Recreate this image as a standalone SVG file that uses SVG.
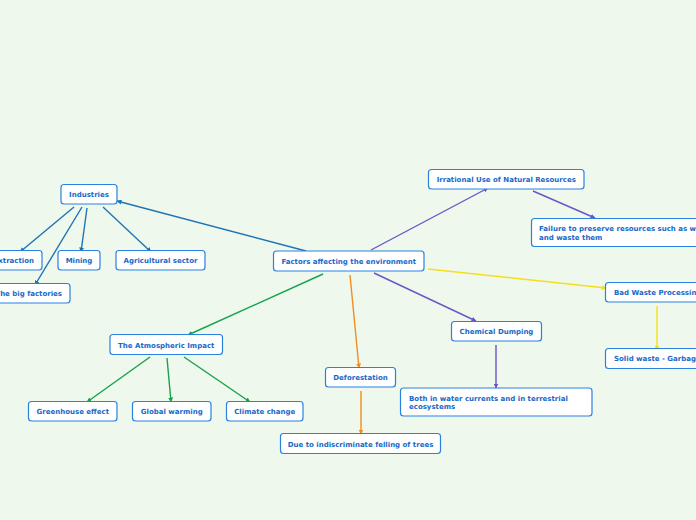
<svg xmlns="http://www.w3.org/2000/svg" width="696" height="520" viewBox="0 0 696 520">
<style>
.n rect{fill:#ffffff;stroke:#2a82e0;stroke-width:1.2}
.n text{font-family:"DejaVu Sans",Verdana,sans-serif;font-weight:bold;font-size:7px;fill:#1768c8}
.c line{stroke-width:1.4;fill:none}
.b{stroke:#1f74b6}
.p{stroke:#6a55c8}
.y{stroke:#f5df1c}
.o{stroke:#f28c22}
.g{stroke:#15a24f}
</style>
<defs>
<marker id="mb" viewBox="0 0 10 10" refX="9" refY="5" markerWidth="5" markerHeight="5" orient="auto" markerUnits="userSpaceOnUse"><path d="M0,0L10,5L0,10z" fill="#1f74b6"/></marker>
<marker id="mp" viewBox="0 0 10 10" refX="9" refY="5" markerWidth="5" markerHeight="5" orient="auto" markerUnits="userSpaceOnUse"><path d="M0,0L10,5L0,10z" fill="#6a55c8"/></marker>
<marker id="my" viewBox="0 0 10 10" refX="9" refY="5" markerWidth="5" markerHeight="5" orient="auto" markerUnits="userSpaceOnUse"><path d="M0,0L10,5L0,10z" fill="#f5df1c"/></marker>
<marker id="mo" viewBox="0 0 10 10" refX="9" refY="5" markerWidth="5" markerHeight="5" orient="auto" markerUnits="userSpaceOnUse"><path d="M0,0L10,5L0,10z" fill="#f28c22"/></marker>
<marker id="mg" viewBox="0 0 10 10" refX="9" refY="5" markerWidth="5" markerHeight="5" orient="auto" markerUnits="userSpaceOnUse"><path d="M0,0L10,5L0,10z" fill="#15a24f"/></marker>
</defs>
<rect width="696" height="520" fill="#eff8ec"/>
<g id="connectors" class="c">
<line class="b" x1="306" y1="251" x2="117" y2="201" marker-end="url(#mb)"/>
<line class="b" x1="74" y1="207" x2="20" y2="252" marker-end="url(#mb)"/>
<line class="b" x1="82" y1="207" x2="35" y2="285" marker-end="url(#mb)"/>
<line class="b" x1="87" y1="208" x2="81" y2="252" marker-end="url(#mb)"/>
<line class="b" x1="103" y1="207" x2="151" y2="252" marker-end="url(#mb)"/>
<line class="p" x1="371" y1="250" x2="488" y2="188" marker-end="url(#mp)"/>
<line class="p" x1="533" y1="191" x2="595" y2="218" marker-end="url(#mp)"/>
<line class="y" x1="428" y1="269" x2="606" y2="288" marker-end="url(#my)"/>
<line class="y" x1="657" y1="306" x2="657" y2="350" marker-end="url(#my)"/>
<line class="p" x1="374" y1="273" x2="476" y2="321" marker-end="url(#mp)"/>
<line class="p" x1="496" y1="345" x2="496" y2="388" marker-end="url(#mp)"/>
<line class="o" x1="350" y1="275" x2="359" y2="368" marker-end="url(#mo)"/>
<line class="o" x1="361" y1="391" x2="361" y2="434" marker-end="url(#mo)"/>
<line class="g" x1="323" y1="274" x2="188" y2="335" marker-end="url(#mg)"/>
<line class="g" x1="150" y1="357" x2="87" y2="402" marker-end="url(#mg)"/>
<line class="g" x1="167" y1="358" x2="171" y2="402" marker-end="url(#mg)"/>
<line class="g" x1="184" y1="357" x2="250" y2="402" marker-end="url(#mg)"/>
</g>
<g id="industries" class="n"><rect x="61" y="184.5" width="56" height="19.5" rx="3"/><text x="89" y="197" text-anchor="middle">Industries</text></g>
<g id="extraction" class="n"><rect x="-20" y="250.5" width="62" height="19.5" rx="3"/><text x="34" y="263" text-anchor="end">Extraction</text></g>
<g id="mining" class="n"><rect x="58" y="250.5" width="42" height="19.5" rx="3"/><text x="79" y="263" text-anchor="middle">Mining</text></g>
<g id="agricultural" class="n"><rect x="116" y="250.5" width="89" height="19.5" rx="3"/><text x="160.5" y="263" text-anchor="middle">Agricultural sector</text></g>
<g id="bigfactories" class="n"><rect x="-20" y="283.5" width="90" height="19.5" rx="3"/><text x="62" y="296" text-anchor="end">The big factories</text></g>
<g id="factors" class="n"><rect x="273.5" y="251" width="150.5" height="20" rx="3"/><text x="348.75" y="264" text-anchor="middle">Factors affecting the environment</text></g>
<g id="irrational" class="n"><rect x="428.5" y="169.5" width="155.5" height="19.5" rx="3"/><text x="506.25" y="182" text-anchor="middle">Irrational Use of Natural Resources</text></g>
<g id="failure" class="n"><rect x="531.5" y="218.5" width="180" height="28" rx="3"/><text x="539" y="231">Failure to preserve resources such as water</text><text x="539" y="240">and waste them</text></g>
<g id="badwaste" class="n"><rect x="605.5" y="282.5" width="110" height="19.5" rx="3"/><text x="614" y="295">Bad Waste Processing</text></g>
<g id="solidwaste" class="n"><rect x="605.5" y="348.5" width="110" height="20" rx="3"/><text x="614" y="361">Solid waste - Garbage</text></g>
<g id="chemical" class="n"><rect x="451.5" y="321.5" width="90" height="19.5" rx="3"/><text x="496.5" y="334" text-anchor="middle">Chemical Dumping</text></g>
<g id="bothwater" class="n"><rect x="400.5" y="388" width="191.5" height="28" rx="3"/><text x="409" y="400.5">Both in water currents and in terrestrial</text><text x="409" y="409">ecosystems</text></g>
<g id="deforestation" class="n"><rect x="325.5" y="367.5" width="70" height="19.5" rx="3"/><text x="360.5" y="380" text-anchor="middle">Deforestation</text></g>
<g id="indiscriminate" class="n"><rect x="280.5" y="433.5" width="160" height="20" rx="3"/><text x="360.5" y="446.5" text-anchor="middle">Due to indiscriminate felling of trees</text></g>
<g id="atmospheric" class="n"><rect x="110" y="334.5" width="112.5" height="20" rx="3"/><text x="166.25" y="347.5" text-anchor="middle">The Atmospheric Impact</text></g>
<g id="greenhouse" class="n"><rect x="28.5" y="401.5" width="88.5" height="19.5" rx="3"/><text x="72.75" y="414" text-anchor="middle">Greenhouse effect</text></g>
<g id="globalwarming" class="n"><rect x="132.5" y="401.5" width="78.5" height="19.5" rx="3"/><text x="171.75" y="414" text-anchor="middle">Global warming</text></g>
<g id="climatechange" class="n"><rect x="226.5" y="401.5" width="76.5" height="19.5" rx="3"/><text x="264.75" y="414" text-anchor="middle">Climate change</text></g>
</svg>
